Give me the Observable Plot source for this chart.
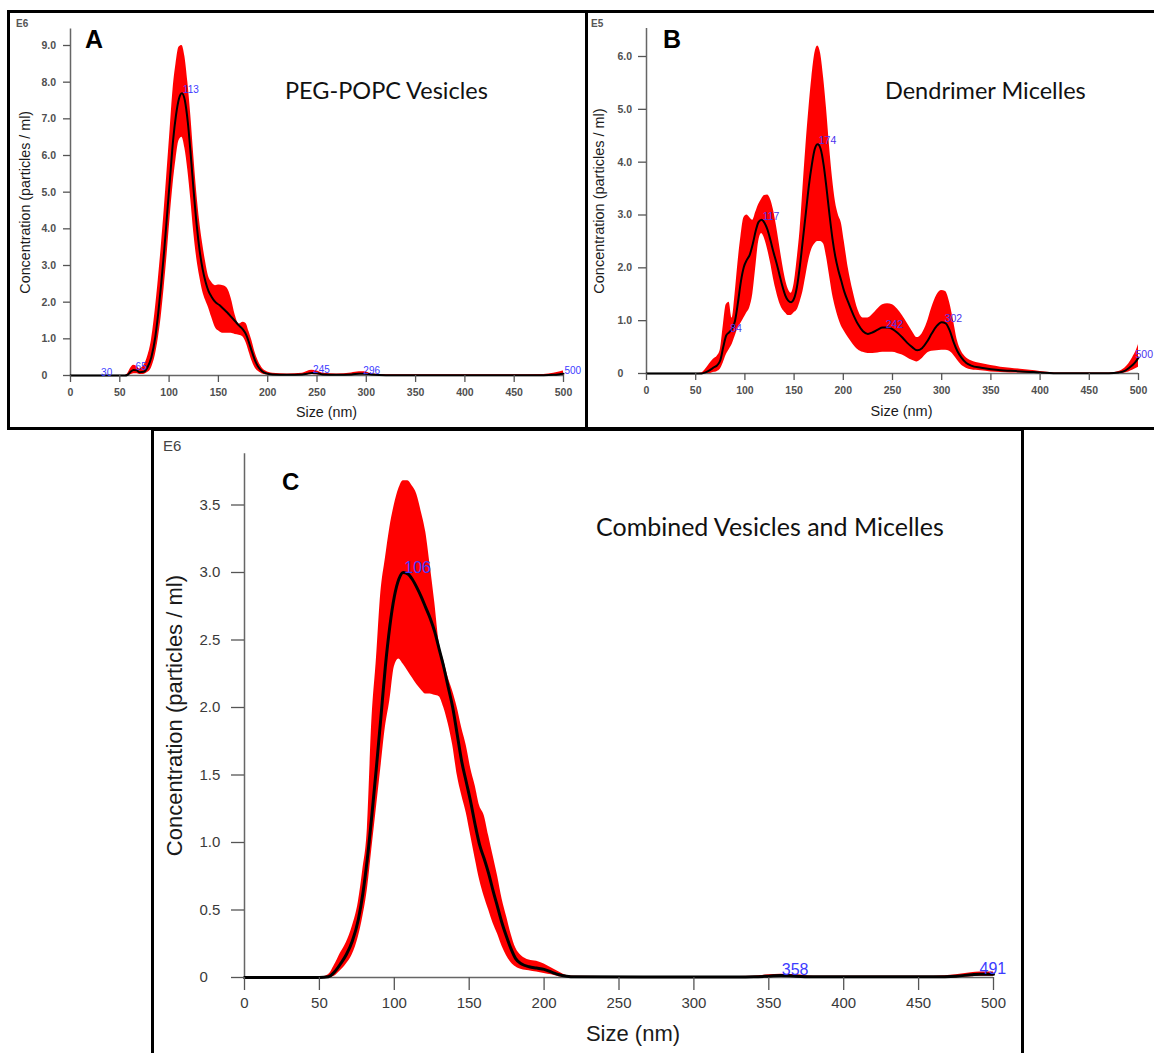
<!DOCTYPE html>
<html><head><meta charset="utf-8">
<script src="https://cdn.jsdelivr.net/npm/d3@7"></script>
<script src="https://cdn.jsdelivr.net/npm/@observablehq/plot@0.6"></script>
<style>
html,body{margin:0;padding:0;background:#fff}
#page{position:relative;width:1154px;height:1053px;overflow:hidden;background:#fff}
.box{position:absolute;border:3px solid #000;box-sizing:border-box}
.lab{position:absolute;line-height:1;white-space:nowrap}
.plot{position:absolute}
</style></head><body><div id="page"></div>
<script>
// ---------- DATA ----------
const xTicks = [0, 50, 100, 150, 200, 250, 300, 350, 400, 450, 500];

// Panel A: PEG-POPC Vesicles (E6 particles/ml)
const aSize = [0,55,58,61,64,67,70,74,78,82,86,89,92,95,98,101,104,107,110,113,116,119,122,125,128,131,134,137,140,143,147,151,155,159,163,167,171,175,178,181,184,187,190,194,198,205,220,235,240,245,250,256,270,285,293,298,305,320,400,480,490,497,500];
const aMean = [0,0,0.02,0.1,0.15,0.14,0.09,0.1,0.22,0.5,1.05,1.7,2.5,3.4,4.4,5.4,6.4,7.1,7.55,7.7,7.5,6.9,6.0,5.0,4.1,3.4,2.9,2.55,2.3,2.15,2.0,1.92,1.82,1.72,1.6,1.48,1.36,1.25,1.12,0.9,0.65,0.42,0.25,0.12,0.06,0.03,0.02,0.03,0.05,0.07,0.06,0.03,0.02,0.03,0.05,0.05,0.03,0.01,0.01,0.01,0.02,0.04,0.05];
const aLow  = [0,0,0,0.02,0.05,0.05,0.03,0.03,0.08,0.2,0.55,1.0,1.6,2.4,3.3,4.3,5.2,5.9,6.4,6.5,6.2,5.6,4.8,3.9,3.2,2.7,2.3,2.05,1.85,1.6,1.3,1.2,1.15,1.15,1.15,1.12,1.1,1.05,0.9,0.65,0.4,0.22,0.12,0.05,0.02,0.01,0.01,0.01,0.02,0.03,0.02,0.01,0.01,0.01,0.02,0.02,0.01,0,0,0,0,0.01,0.01];
const aHigh = [0,0,0.05,0.2,0.28,0.25,0.18,0.25,0.5,0.95,1.8,2.6,3.5,4.5,5.6,6.7,7.8,8.5,8.95,9.0,8.7,8.0,7.1,6.0,5.0,4.2,3.6,3.1,2.7,2.55,2.45,2.47,2.45,2.38,2.1,1.65,1.4,1.45,1.42,1.2,0.95,0.65,0.42,0.22,0.12,0.06,0.04,0.06,0.11,0.14,0.12,0.06,0.04,0.07,0.1,0.1,0.05,0.02,0.02,0.03,0.06,0.1,0.12];
const aYTicks = [0,1,2,3,4,5,6,7,8,9];
const aPeakSize = [30, 65, 113, 245, 296, 500];
const aPeakValue = [0.0, 0.15, 7.7, 0.07, 0.05, 0.05];
const aPeakText = ["30", "65", "113", "245", "296", "500"];

// Panel B: Dendrimer Micelles (E5 particles/ml)
const bSize = [0,50,56,60,64,68,72,75,78,81,84,87,90,93,96,99,102,105,108,111,114,117,120,123,126,129,132,135,138,141,144,147,150,153,156,159,162,165,168,171,174,177,180,183,186,189,192,195,198,201,205,210,215,220,225,230,235,240,245,250,255,260,265,270,275,280,285,290,295,300,304,308,312,316,320,325,330,340,350,360,370,380,390,400,420,470,480,486,490,494,497,500];
const bMean = [0,0,0,0.02,0.06,0.11,0.16,0.25,0.5,0.72,0.78,0.85,1.0,1.35,1.75,2.02,2.15,2.25,2.45,2.7,2.87,2.91,2.85,2.72,2.52,2.3,2.1,1.88,1.66,1.48,1.38,1.35,1.42,1.65,2.05,2.55,3.05,3.55,3.95,4.25,4.34,4.25,3.95,3.5,3.0,2.55,2.2,1.95,1.75,1.55,1.35,1.12,0.93,0.8,0.75,0.78,0.83,0.87,0.87,0.84,0.77,0.68,0.58,0.5,0.44,0.48,0.6,0.76,0.9,0.97,0.95,0.82,0.6,0.42,0.3,0.2,0.15,0.11,0.08,0.06,0.05,0.04,0.03,0.02,0.005,0.005,0.02,0.05,0.1,0.16,0.22,0.3];
const bLow  = [0,0,0,0,0,0.02,0.04,0.08,0.2,0.35,0.45,0.55,0.7,0.85,0.95,1.05,1.15,1.25,1.5,2.0,2.5,2.65,2.55,2.35,2.1,1.8,1.55,1.35,1.22,1.15,1.1,1.1,1.15,1.2,1.35,1.55,1.85,2.15,2.35,2.45,2.5,2.5,2.45,2.2,1.85,1.5,1.25,1.05,0.9,0.8,0.68,0.55,0.45,0.4,0.38,0.38,0.39,0.4,0.4,0.4,0.38,0.35,0.3,0.25,0.22,0.28,0.38,0.42,0.43,0.44,0.44,0.42,0.35,0.25,0.16,0.1,0.07,0.05,0.03,0.02,0.01,0.01,0,0,0,0,0,0.01,0.03,0.06,0.09,0.12];
const bHigh = [0,0,0.01,0.08,0.18,0.27,0.33,0.45,0.9,1.3,1.35,1.05,1.5,2.1,2.6,2.95,3.0,2.95,2.9,3.05,3.2,3.3,3.37,3.38,3.3,3.1,2.8,2.45,2.1,1.8,1.6,1.52,1.7,2.15,2.7,3.5,4.3,5.0,5.6,6.05,6.2,6.05,5.6,5.0,4.3,3.7,3.25,3.0,2.85,2.5,2.0,1.55,1.2,1.05,1.05,1.12,1.22,1.3,1.32,1.3,1.22,1.1,0.95,0.8,0.68,0.75,0.95,1.25,1.48,1.57,1.55,1.35,1.0,0.62,0.42,0.3,0.24,0.19,0.15,0.12,0.1,0.08,0.06,0.04,0.01,0.01,0.04,0.1,0.18,0.3,0.4,0.55];
const bYTicks = [0,1,2,3,4,5,6];
const bPeakSize = [84, 117, 174, 242, 302, 500];
const bPeakValue = [0.78, 2.91, 4.34, 0.87, 0.97, 0.3];
const bPeakText = ["84", "117", "174", "242", "302", "500"];

// Panel C: Combined Vesicles and Micelles (E6 particles/ml)
const cSize = [0,50,56,60,64,68,72,76,79,82,85,88,91,94,97,100,103,106,109,112,115,118,121,124,127,130,133,136,139,142,145,148,151,154,157,160,163,166,169,172,175,178,181,185,190,195,200,205,210,215,220,300,340,350,358,368,380,460,475,485,491,500];
const cMean = [0,0,0.005,0.04,0.1,0.17,0.27,0.43,0.62,0.88,1.2,1.55,1.92,2.3,2.6,2.82,2.95,3.0,2.99,2.95,2.89,2.82,2.74,2.66,2.56,2.43,2.3,2.15,2.0,1.8,1.6,1.45,1.3,1.13,0.98,0.88,0.77,0.64,0.52,0.4,0.3,0.21,0.14,0.1,0.08,0.07,0.06,0.04,0.02,0.01,0.005,0.003,0.005,0.01,0.015,0.01,0.005,0.005,0.01,0.02,0.025,0.025];
const cLow  = [0,0,0,0.01,0.05,0.1,0.17,0.3,0.45,0.65,0.95,1.25,1.55,1.85,2.05,2.3,2.36,2.32,2.27,2.22,2.17,2.13,2.1,2.1,2.09,2.08,2.0,1.88,1.72,1.5,1.35,1.22,1.05,0.88,0.72,0.6,0.5,0.4,0.32,0.23,0.16,0.11,0.08,0.06,0.05,0.04,0.03,0.02,0.005,0,0,0,0,0,0.005,0,0,0,0,0.005,0.01,0.01];
const cHigh = [0,0,0.02,0.09,0.18,0.26,0.38,0.56,0.8,1.1,1.9,2.35,2.85,3.1,3.33,3.5,3.62,3.68,3.68,3.64,3.58,3.45,3.3,3.05,2.78,2.48,2.35,2.22,2.12,2.0,1.85,1.72,1.55,1.42,1.27,1.2,1.05,0.9,0.75,0.58,0.45,0.32,0.22,0.16,0.13,0.12,0.1,0.07,0.04,0.015,0.01,0.006,0.01,0.02,0.025,0.02,0.01,0.01,0.02,0.035,0.04,0.04];
const cYTicks = [0,0.5,1,1.5,2,2.5,3,3.5];
const cPeakSize = [106, 358, 490];
const cPeakValue = [3.0, 0.015, 0.025];
const cPeakText = ["106", "358", "491"];

// ---------- LAYOUT ----------
const page = document.getElementById("page");
function box(l, t, w, h) {
  const d = document.createElement("div");
  d.className = "box";
  Object.assign(d.style, {left: l + "px", top: t + "px", width: w + "px", height: h + "px"});
  page.appendChild(d);
}
function label(text, x, cy, fs, family, weight, color) {
  const d = document.createElement("div");
  d.className = "lab";
  d.textContent = text;
  Object.assign(d.style, {left: x + "px", top: (cy - fs * 0.5) + "px", fontSize: fs + "px",
    fontFamily: family, fontWeight: weight, color});
  page.appendChild(d);
}
const SANS = "'Liberation Sans', Arial, sans-serif";
const TITLE = "Lato, 'Open Sans', sans-serif";

function table(s, m, lo, hi) { return s.map((v, i) => ({s: v, m: m[i], lo: lo[i], hi: hi[i]})); }
function peaks(s, v, t) { return s.map((x, i) => ({s: x, v: v[i], t: t[i]})); }

function panel(cfg) {
  const data = table(cfg.size, cfg.mean, cfg.low, cfg.high);
  const pk = peaks(cfg.pSize, cfg.pValue, cfg.pText);
  const fmt = d => d === 0 ? "0" : d.toFixed(1);
  const svg = Plot.plot({
    width: cfg.width, height: cfg.height,
    marginLeft: cfg.ml, marginRight: cfg.mr, marginTop: cfg.mt, marginBottom: cfg.mb,
    style: {fontFamily: SANS, color: "#3a3a3a", background: "transparent", overflow: "visible"},
    x: {domain: [0, 500]},
    y: {domain: [0, cfg.yMax]},
    marks: [
      Plot.ruleY([0], {stroke: "#666", strokeWidth: 1.5}),
      Plot.ruleX([0], {stroke: "#666", strokeWidth: 1.5}),
      Plot.areaY(data, {x: "s", y1: "lo", y2: "hi", fill: "#ff0000", curve: "monotone-x"}),
      Plot.lineY(data, {x: "s", y: "m", stroke: "#000", strokeWidth: cfg.lw, curve: "monotone-x"}),
      Plot.axisX({ticks: xTicks, tickSize: cfg.tsx, tickPadding: cfg.tpx, fontSize: cfg.tf,
        fontWeight: cfg.tw, tickFormat: d => String(d), label: null, strokeWidth: 1.3,
        stroke: "#555", fill: cfg.tc}),
      Plot.axisY({ticks: cfg.yTicks, tickSize: cfg.tsy, tickPadding: cfg.tpy, fontSize: cfg.tf,
        fontWeight: cfg.tw, textAnchor: "start", tickFormat: fmt, label: null, strokeWidth: 1.3,
        stroke: "#555", fill: cfg.tc}),
      Plot.text(pk, {filter: d => d.s < 500 || !cfg.clipLast, x: "s", y: "v", text: "t",
        textAnchor: "start", lineAnchor: "bottom", fill: cfg.pColor, fontSize: cfg.pf, dx: 1}),
      Plot.text(pk, {filter: d => d.s >= 500 && cfg.clipLast, x: "s", y: "v", text: "t",
        textAnchor: "start", lineAnchor: "bottom", fill: cfg.pColor, fontSize: cfg.pf, dx: -3}),
      Plot.text(["Size (nm)"], {text: d => d, frameAnchor: "bottom", textAnchor: "middle",
        dx: cfg.xlDx, dy: cfg.xlDy, lineAnchor: "middle", fontSize: cfg.lf, fill: "#1a1a1a"}),
      Plot.text(["Concentration (particles / ml)"], {text: d => d, frameAnchor: "left",
        textAnchor: "middle", rotate: -90, dx: cfg.ylDx, lineAnchor: "middle",
        fontSize: cfg.lf, fill: "#1a1a1a"})
    ]
  });
  const wrap = document.createElement("div");
  wrap.className = "plot";
  wrap.style.left = cfg.left + "px";
  wrap.style.top = cfg.top + "px";
  wrap.appendChild(svg);
  page.appendChild(wrap);
}

// Panel A
panel({size: aSize, mean: aMean, low: aLow, high: aHigh, yTicks: aYTicks, yMax: 9.45,
  pSize: aPeakSize, pValue: aPeakValue, pText: aPeakText, pColor: "#3c3cff", pf: 10, clipLast: false,
  left: 10, top: 14, width: 570, height: 412, ml: 60, mr: 17, mt: 14.5, mb: 51,
  lw: 2, tsx: 7, tpx: 6, tsy: 7, tpy: 22, tf: 10.5, tw: "bold", tc: "#505050",
  lf: 14.3, xlDx: 9.5, xlDy: 37, ylDx: -45});
// Panel B
panel({size: bSize, mean: bMean, low: bLow, high: bHigh, yTicks: bYTicks, yMax: 6.53,
  pSize: bPeakSize, pValue: bPeakValue, pText: bPeakText, pColor: "#4a33ee", pf: 10.5, clipLast: true,
  left: 588, top: 14, width: 566, height: 412, ml: 58, mr: 16, mt: 14, mb: 53,
  lw: 2, tsx: 7, tpx: 6, tsy: 8, tpy: 21, tf: 10.5, tw: "bold", tc: "#505050",
  lf: 14.5, xlDx: 9, xlDy: 37.5, ylDx: -47});
// Panel C
panel({size: cSize, mean: cMean, low: cLow, high: cHigh, yTicks: cYTicks, yMax: 3.88,
  pSize: cPeakSize, pValue: cPeakValue, pText: cPeakText, pColor: "#3c3cff", pf: 16, clipLast: false,
  left: 155, top: 433, width: 865, height: 620, ml: 89, mr: 27, mt: 20.2, mb: 76,
  lw: 3, tsx: 13, tpx: 7, tsy: 13, tpy: 32, tf: 15, tw: "normal", tc: "#3a3a3a",
  lf: 22, xlDx: 14, xlDy: 56, ylDx: -70});

// Frames
box(7, 10, 581, 420);
box(585, 10, 575, 420);
box(151, 428, 873, 640);

// Titles & exponents
label("E6", 16, 24, 10, SANS, "bold", "#555");
label("E5", 591, 24, 10, SANS, "bold", "#555");
label("E6", 163, 445, 15, SANS, "normal", "#444");
label("A", 85, 39, 25, SANS, "bold", "#000");
label("B", 663, 39, 25, SANS, "bold", "#000");
label("C", 282, 481.5, 24, SANS, "bold", "#000");
label("PEG-POPC Vesicles", 285, 90.5, 23.5, TITLE, "normal", "#111");
label("Dendrimer Micelles", 885, 90.5, 23.5, TITLE, "normal", "#111");
label("Combined Vesicles and Micelles", 596, 526, 25, TITLE, "normal", "#111");
</script></body></html>
